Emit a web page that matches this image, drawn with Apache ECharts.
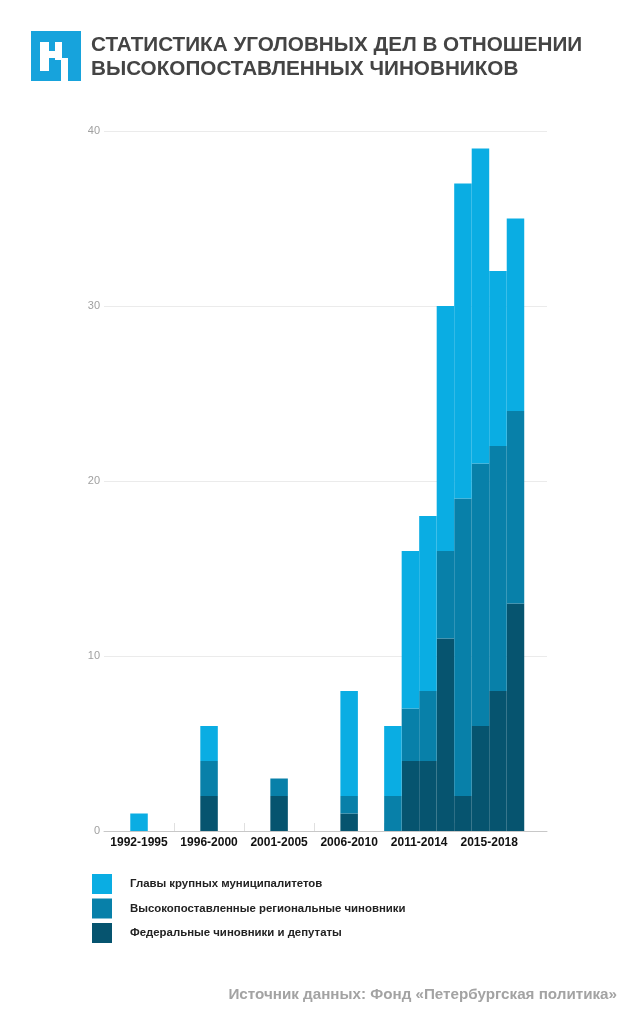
<!DOCTYPE html>
<html>
<head>
<meta charset="utf-8">
<script src="https://cdn.jsdelivr.net/npm/echarts@6/dist/echarts.min.js"></script>
<style>
  html, body { margin: 0; padding: 0; background: #fff; }
  #chart { width: 640px; height: 1024px; }
</style>
</head>
<body>
<div id="chart"></div>
<script>
// periods: the first four are whole periods, then single years
const periods = ['1992-1995', '1996-2000', '2001-2005', '2006-2010',
  '2011', '2012', '2013', '2014', '2015', '2016', '2017', '2018'];
const groupLabels = ['1992-1995', '1996-2000', '2001-2005', '2006-2010', '2011-2014', '2015-2018'];
const yTicks = [0, 10, 20, 30, 40];

const federal = [0, 2, 2, 1, 0, 4, 4, 11, 2, 6, 8, 13];   // Федеральные чиновники и депутаты
const regional = [0, 2, 1, 1, 2, 3, 4, 5, 17, 15, 14, 11]; // Высокопоставленные региональные чиновники
const mayors = [1, 2, 0, 6, 4, 9, 10, 14, 18, 18, 10, 11]; // Главы крупных муниципалитетов

const names = ['Главы крупных муниципалитетов', 'Высокопоставленные региональные чиновники', 'Федеральные чиновники и депутаты'];
const colors = ['#0aade3', '#0880a9', '#06546f'];

// each label group takes 4 slots; a period sits in the middle of its group, a year in its own slot
function slotOf(p) {
  if (p.indexOf('-') > 0) return groupLabels.indexOf(p) * 4 + 2;
  return 16 + (+p - 2011) + 0.5;
}
// value first so that the stack is done on the value dimension
function toData(arr) {
  return arr.map((v, i) => [v, slotOf(periods[i])]);
}

const chart = echarts.init(document.getElementById('chart'));

function barSeries(name, arr, color) {
  return {
    name: name,
    type: 'bar',
    stack: 'all',
    data: toData(arr),
    encode: { x: 1, y: 0 },
    barWidth: 17.5,
    itemStyle: { color: color }
  };
}

const option = {
  backgroundColor: '#fff',
  animation: false,
  title: {
    text: 'СТАТИСТИКА УГОЛОВНЫХ ДЕЛ В ОТНОШЕНИИ\nВЫСОКОПОСТАВЛЕННЫХ ЧИНОВНИКОВ',
    left: 91,
    top: 34,
    padding: 0,
    textStyle: {
      fontFamily: 'Liberation Sans, Arial, sans-serif',
      fontSize: 20.7,
      lineHeight: 23.5,
      fontWeight: 'bold',
      color: '#444'
    }
  },
  grid: { left: 104, right: 93, top: 131, bottom: 193 },
  xAxis: {
    type: 'value',
    min: 0,
    max: 25.3,
    splitLine: { show: false },
    axisLine: { show: true, lineStyle: { color: '#c8c8c8', width: 1 } },
    axisTick: {
      show: true,
      inside: true,
      length: 8,
      customValues: [4, 8, 12, 16, 20],
      lineStyle: { color: '#e0e0e0' }
    },
    axisLabel: {
      customValues: groupLabels.map((g, i) => i * 4 + 2),
      formatter: v => groupLabels[Math.round((v - 2) / 4)] || '',
      margin: 6,
      fontFamily: 'Liberation Sans, Arial, sans-serif',
      fontSize: 12,
      fontWeight: 'bold',
      color: '#111'
    }
  },
  yAxis: {
    type: 'value',
    min: yTicks[0],
    max: yTicks[yTicks.length - 1],
    interval: 10,
    axisLine: { show: false },
    axisTick: { show: false },
    splitLine: { lineStyle: { color: '#ebebeb' } },
    axisLabel: {
      margin: 4,
      fontFamily: 'Liberation Sans, Arial, sans-serif',
      fontSize: 11,
      color: '#a0a0a0'
    }
  },
  legend: {
    data: names,
    orient: 'vertical',
    left: 92,
    top: 874,
    padding: 0,
    icon: 'rect',
    itemWidth: 20,
    itemHeight: 20,
    itemGap: 4.5,
    textStyle: {
      fontFamily: 'Liberation Sans, Arial, sans-serif',
      fontSize: 11.4,
      fontWeight: 'bold',
      color: '#222',
      padding: [0, 0, 0, 13]
    }
  },
  series: [
    barSeries(names[2], federal, colors[2]),
    barSeries(names[1], regional, colors[1]),
    barSeries(names[0], mayors, colors[0])
  ],
  graphic: [
    {
      type: 'group',
      left: 31,
      top: 31,
      children: [
        { type: 'rect', shape: { x: 0, y: 0, width: 50, height: 50 }, style: { fill: '#17a3dc' } },
        { type: 'rect', shape: { x: 9, y: 11, width: 9, height: 29 }, style: { fill: '#fff' } },
        { type: 'rect', shape: { x: 18, y: 20, width: 10, height: 7 }, style: { fill: '#fff' } },
        { type: 'rect', shape: { x: 24, y: 11, width: 7, height: 18 }, style: { fill: '#fff' } },
        { type: 'rect', shape: { x: 30, y: 27, width: 7, height: 23 }, style: { fill: '#fff' } }
      ]
    },
    {
      type: 'text',
      right: 23,
      top: 987,
      style: {
        text: 'Источник данных: Фонд «Петербургская политика»',
        fontFamily: 'Liberation Sans, Arial, sans-serif',
        fontSize: 15.2,
        fontWeight: 'bold',
        fill: '#a3a3a3'
      }
    }
  ]
};

chart.setOption(option);
</script>
</body>
</html>
